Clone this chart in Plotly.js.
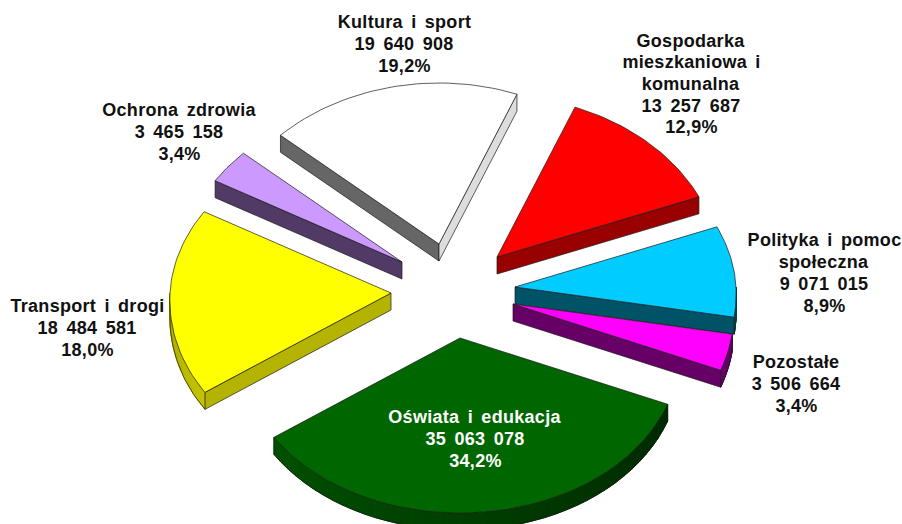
<!DOCTYPE html>
<html>
<head>
<meta charset="utf-8">
<script src="https://cdn.plot.ly/plotly-3.0.1.min.js"></script>
<style>
html,body{margin:0;padding:0;background:#fff}
#chart{width:902px;height:524px}
#chart .annotation text{word-spacing:3px;letter-spacing:0.3px}
</style>
</head>
<body>
<div id="chart"></div>
<script>
// Data, clockwise from the start of the first slice
const categories = ["Kultura i sport","Gospodarka<br>mieszkaniowa i<br>komunalna","Polityka i pomoc<br>społeczna","Pozostałe","Oświata i edukacja","Transport i drogi","Ochrona zdrowia"];
const amounts = [19640908,13257687,9071015,3506664,35063078,18484581,3465158];
const percents = ["19,2%","12,9%","8,9%","3,4%","34,2%","18,0%","3,4%"];

// Styles
const faceColors = ["#ffffff","#ff0000","#00ccff","#ff00ff","#006600","#ffff00","#cc99ff"];
const startWallColors = ["#666666","#990000","#005266","#660066","#004000","#b3b300","#513a66"];
const endWallColors = ["#dddddd","#990000","#005266","#660066","#004000","#b3b300","#513a66"];
const outerWallFrom = ["#dddddd","#990000","#005266","#660066","#002800","#c4c400","#513a66"];
const outerWallTo = ["#dddddd","#990000","#005266","#660066","#005000","#a8a800","#513a66"];
const labelColors = ["#111","#111","#111","#111","#fff","#111","#111"];

// Exploded-slice layout (pixel-like plot units)
const apexX = [439,497,515,513,460,391,402];
const apexY = [244,257,287,304,338,293,262];
const labelX = [404,691,824,796,475,87,179];
const labelY = [44,84,273,384,439,328,132];
const paintOrder = [0,6,1,2,3,5,4];
const startAngle = -47.5, radiusX = 221, radiusUp = 161, radiusDown = 175, depth = 17, perspective = 0.04, lineStep = 21.7;

const total = amounts.reduce((a,b)=>a+b,0);
const fmt = n => String(n).replace(/\B(?=(\d{3})+$)/g," ");
const rim = (i,deg,dz) => {
  const r = deg*Math.PI/180, c = Math.cos(r);
  return [apexX[i]+radiusX*Math.sin(r)*(1-perspective*c), apexY[i]-(c>0?radiusUp:radiusDown)*c+dz];
};
const poly = (pts,fill,name,hover,lineColor,lineWidth) => ({
  type:"scatter",mode:"lines",x:pts.map(p=>p[0]),y:pts.map(p=>p[1]),
  fill:fill?"toself":"none",fillcolor:fill||undefined,line:{color:lineColor||"#1a1a1a",width:lineWidth||0.7},
  name:name,hoverinfo:hover?"text":"skip",text:hover||undefined,showlegend:false
});
const hex = s => [1,3,5].map(p=>parseInt(s.substr(p,2),16));
const mix = (a,b,t) => { const x=hex(a),y=hex(b); return "rgb("+x.map((v,k)=>Math.round(v+(y[k]-v)*t)).join(",")+")"; };
// a straight side wall shows only if moving down leaves the wedge
const wallShows = (A,P,M) => {
  const cut=(P[0]-A[0])*(M[1]-A[1])-(P[1]-A[1])*(M[0]-A[0]), down=(P[0]-A[0]);
  return cut*down<0;
};

let cum = startAngle;
const spans = amounts.map(v=>{const s=[cum,cum+v/total*360];cum=s[1];return s;});
const traces = [];
paintOrder.forEach(i=>{
  const [a0,a1] = spans[i];
  const name = categories[i].replace(/<br>/g," ");
  const top=[];
  for(let k=0;k<=40;k++) top.push(rim(i,a0+(a1-a0)*k/40,0));
  const A=[apexX[i],apexY[i]],B=[apexX[i],apexY[i]+depth],M=rim(i,(a0+a1)/2,0);
  if(wallShows(A,top[0],M)) traces.push(poly([A,B,rim(i,a0,depth),rim(i,a0,0),A],startWallColors[i],name));
  if(wallShows(A,top[40],M)) traces.push(poly([A,B,rim(i,a1,depth),rim(i,a1,0),A],endWallColors[i],name));
  // the rim wall only shows where the rim faces the viewer
  const w0=Math.max(a0,90), w1=Math.min(a1,270);
  if(w1>w0){
    const segs=40, upper=[], lower=[];
    for(let k=0;k<segs;k++){
      const d0=w0+(w1-w0)*k/segs, d1=w0+(w1-w0)*(k+1)/segs, col=mix(outerWallFrom[i],outerWallTo[i],(k+.5)/segs);
      const seg=[rim(i,d0,0),rim(i,d1,0),rim(i,d1,depth),rim(i,d0,depth)];
      seg.push(seg[0]);
      traces.push(poly(seg,col,name,null,col,1));
    }
    for(let k=0;k<=40;k++){const d=w0+(w1-w0)*k/40;upper.push(rim(i,d,0));lower.push(rim(i,d,depth));}
    traces.push(poly(lower.concat([upper[40]]),null,name));
    traces.push(poly([upper[0],lower[0]],null,name));
  }
  traces.push(poly([A].concat(top).concat([A]),faceColors[i],name,name+": "+fmt(amounts[i])+" ("+percents[i]+")"));
});

const annotations = [];
categories.forEach((c,i)=>{
  const lines = c.split("<br>").concat([fmt(amounts[i]),percents[i]]);
  lines.forEach((t,j)=>annotations.push({
    x:labelX[i],y:labelY[i]+(j-(lines.length-1)/2)*lineStep,xref:"x",yref:"y",
    xanchor:"center",yanchor:"middle",align:"center",showarrow:false,
    text:"<b>"+t+"</b>",
    font:{family:"Liberation Sans, Arial, sans-serif",size:18,color:labelColors[i]}
  }));
});

Plotly.newPlot("chart",traces,{
  width:902,height:524,margin:{l:0,r:0,t:0,b:0},
  paper_bgcolor:"#fff",plot_bgcolor:"#fff",showlegend:false,
  xaxis:{visible:false,range:[0,902],fixedrange:true},
  yaxis:{visible:false,range:[524,0],fixedrange:true},
  annotations:annotations
},{displayModeBar:false});
</script>
</body>
</html>
